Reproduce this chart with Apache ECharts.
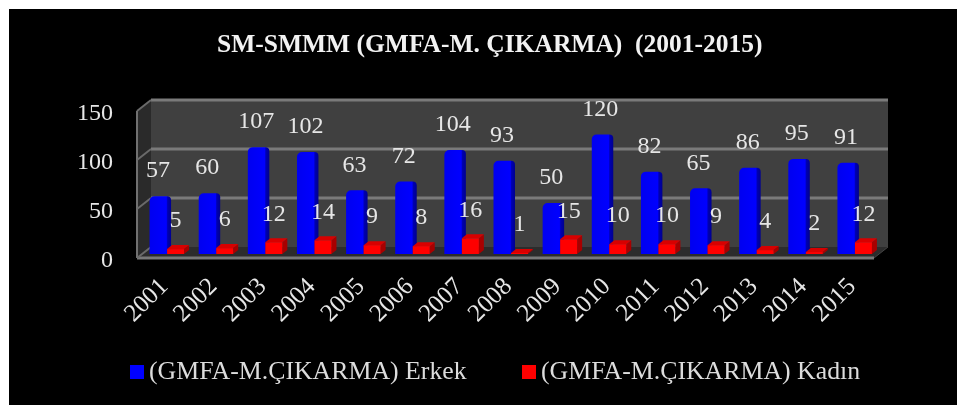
<!DOCTYPE html>
<html><head><meta charset="utf-8">
<style>html,body{margin:0;padding:0;background:#fff}#c{width:957px;height:405px}</style>
<script src="https://cdn.jsdelivr.net/npm/echarts@6/dist/echarts.min.js"></script>
</head><body><div id="c"></div>
<script>
var titleText = 'SM-SMMM (GMFA-M. ÇIKARMA)  (2001-2015)';
var years = ['2001','2002','2003','2004','2005','2006','2007','2008','2009','2010','2011','2012','2013','2014','2015'];
var erkekName = '(GMFA-M.ÇIKARMA) Erkek';
var kadinName = '(GMFA-M.ÇIKARMA) Kadın';
var erkek = [57,60,107,102,63,72,104,93,50,120,82,65,86,95,91];
var kadin = [5,6,12,14,9,8,16,1,15,10,10,9,4,2,12];
var yTicks = [0,50,100,150];

var FONT = '"Liberation Serif", serif';
var DX = 14, DY = -11;

function renderWall(params, api) {
  var v = api.value(0);
  var a = api.coord([0, v]);
  var cs = params.coordSys;
  var L = cs.x, R = cs.x + cs.width, T = cs.y, B = cs.y + cs.height;
  var kids = [];
  if (v === 0) {
    kids.push({type:'polygon',shape:{points:[[L+DX,T+DY],[R+DX,T+DY],[R+DX,B+DY],[L+DX,B+DY]]},style:{fill:'#404040'}});
    kids.push({type:'polygon',shape:{points:[[L,T],[L+DX,T+DY],[L+DX,B+DY],[L,B]]},style:{fill:'#2a2a2a'}});
    kids.push({type:'polygon',shape:{points:[[L,B],[L+DX,B+DY],[R+DX,B+DY],[R,B]]},style:{fill:'#2c2c2c'}});
    kids.push({type:'line',shape:{x1:L,y1:T,x2:L,y2:B},style:{stroke:'#707070',lineWidth:2}});
    kids.push({type:'line',shape:{x1:L,y1:B,x2:R,y2:B},style:{stroke:'#787878',lineWidth:3}});
    kids.push({type:'line',shape:{x1:R,y1:B,x2:R+DX,y2:B+DY},style:{stroke:'#444',lineWidth:1}});
  } else {
    kids.push({type:'line',shape:{x1:L+DX,y1:a[1]+DY,x2:R+DX,y2:a[1]+DY},style:{stroke:'#7a7a7a',lineWidth:3}});
  }
  kids.push({type:'line',shape:{x1:L,y1:a[1],x2:L+DX,y2:a[1]+DY},style:{stroke:'#6a6a6a',lineWidth:2}});
  return {type:'group',children:kids};
}

function valueText(v, x, y) {
  return {type:'text',style:{text:String(v),x:x,y:y,fill:'#e6e6e6',font:'24px '+FONT,align:'center',verticalAlign:'middle'},z2:50};
}

function renderBlue(params, api) {
  var i = api.value(0), v = api.value(1);
  var c = api.coord([i, v]), z = api.coord([i, 0]);
  var base = z[1] - 4, top = base - (z[1] - c[1]) - 2;
  return {type:'group',children:[
    {type:'rect',shape:{x:c[0]-12,y:top,width:21.5,height:base-top,r:[5,4,0,0]},
      style:{fill:new echarts.graphic.LinearGradient(0,0,1,0,[
        {offset:0,color:'#0000f0'},{offset:0.78,color:'#0000ff'},{offset:0.84,color:'#0000b0'},{offset:1,color:'#000090'}])}},
    valueText(v, c[0]-3.5, c[1]-31)
  ]};
}

function renderRed(params, api) {
  var i = api.value(0), v = api.value(1);
  var c = api.coord([i, v]), z = api.coord([i, 0]);
  var x = c[0]+5.5, w = 17, d = 5, h = 4;
  var base = z[1] - 4, top = base - (z[1] - c[1]);
  return {type:'group',children:[
    {type:'polygon',shape:{points:[[x+w,base],[x+w+d,base-h],[x+w+d,top-h],[x+w,top]]},style:{fill:'#a80000'}},
    {type:'polygon',shape:{points:[[x,top],[x+d,top-h],[x+w+d,top-h],[x+w,top]]},style:{fill:'#d80000'}},
    {type:'rect',shape:{x:x,y:top,width:w,height:base-top},style:{fill:'#ff0000'}},
    valueText(v, c[0]+14, c[1]-32)
  ]};
}

var chart = echarts.init(document.getElementById('c'), null, {renderer:'canvas'});
chart.setOption({
  animation:false,
  backgroundColor:'#fff',
  graphic:[{type:'rect',z:-10,silent:true,shape:{x:9,y:9,width:948,height:396},style:{fill:'#000'}}],
  title:{text:titleText,left:217,top:32,padding:0,textStyle:{color:'#f2f2f2',fontFamily:FONT,fontWeight:'bold',fontSize:25.5}},
  legend:[
    {data:[{name:erkekName,icon:'rect'}],left:130,top:359,itemWidth:14,itemHeight:14,itemGap:6,padding:0,textStyle:{color:'#dcdcdc',fontFamily:FONT,fontSize:25.8}},
    {data:[{name:kadinName,icon:'rect'}],left:522,top:359,itemWidth:14,itemHeight:14,itemGap:6,padding:0,textStyle:{color:'#dcdcdc',fontFamily:FONT,fontSize:25.8}}
  ],
  grid:{left:137,right:83,top:111,bottom:147},
  xAxis:{type:'category',data:years,boundaryGap:true,
    axisLine:{show:false},axisTick:{show:false},splitLine:{show:false},
    axisLabel:{interval:0,rotate:45,margin:22,color:'#e6e6e6',fontFamily:FONT,fontSize:25,
      formatter:function(v){return '{a|'+v+'}';},
      rich:{a:{color:'#e6e6e6',fontFamily:FONT,fontSize:25,padding:[8,0,0,0]}}}},
  yAxis:{type:'value',min:0,max:150,interval:50,
    axisLine:{show:false},axisTick:{show:false},splitLine:{show:false},
    axisLabel:{margin:24,color:'#e6e6e6',fontFamily:FONT,fontSize:24,
      formatter:function(v){return '{a|'+v+'}';},
      rich:{a:{color:'#e6e6e6',fontFamily:FONT,fontSize:24,padding:[5,0,0,0]}}}},
  series:[
    {type:'custom',name:'wall',silent:true,z:1,clip:false,renderItem:renderWall,
      encode:{y:0},data:yTicks.map(function(t){return [t];})},
    {type:'custom',name:erkekName,z:2,clip:false,itemStyle:{color:'#0000ff'},renderItem:renderBlue,
      encode:{x:0,y:1},data:erkek.map(function(v,i){return [i,v];})},
    {type:'custom',name:kadinName,z:3,clip:false,itemStyle:{color:'#ff0000'},renderItem:renderRed,
      encode:{x:0,y:1},data:kadin.map(function(v,i){return [i,v];})}
  ]
});
</script></body></html>
